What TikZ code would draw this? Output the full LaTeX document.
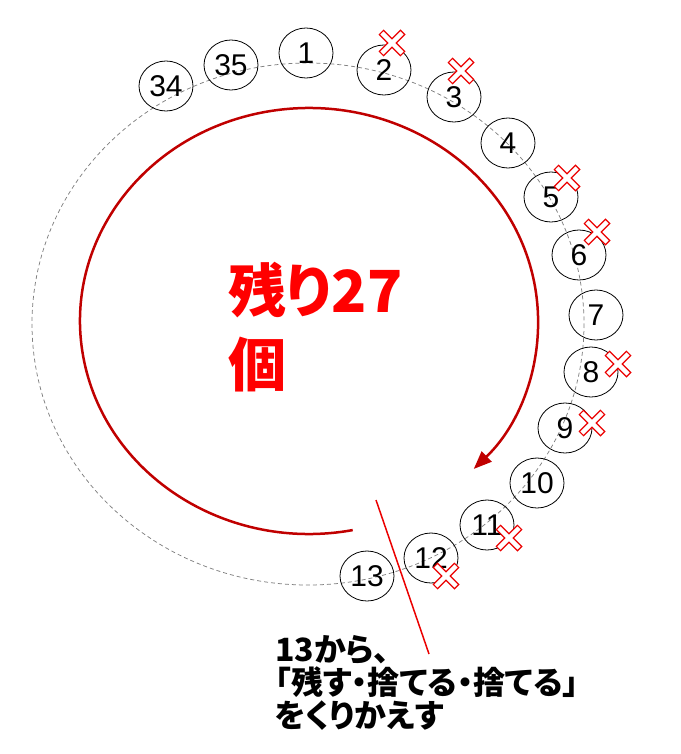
\documentclass[tikz,border=0pt]{standalone}
\usepackage{fontspec}
\setmainfont{Liberation Sans}
\newfontfamily\jpfont[RawFeature=+palt]{Noto Sans CJK JP}
\usetikzlibrary{shapes.geometric,arrows.meta}
\definecolor{ringgrey}{RGB}{128,128,128}
\definecolor{arcred}{RGB}{192,0,0}
\definecolor{markred}{RGB}{235,0,0}
\definecolor{textred}{RGB}{255,0,0}

\begin{document}
\begin{tikzpicture}[x=1pt,y=-1pt,
    ball/.style={ellipse,draw,line width=0.8,minimum width=54,minimum height=50,inner sep=0,font=\fontsize{30pt}{30pt}\selectfont},
    rest/.style={inner sep=0,anchor=base west,text=textred,font=\jpfont\bfseries\fontsize{58pt}{58pt}\selectfont},
    note/.style={inner sep=0,anchor=base west,text=black,font=\jpfont\bfseries\fontsize{32pt}{32pt}\selectfont},
    xmark/.pic={\draw[line width=1.1,color=markred,fill=white] (3,15) -- (3,3) -- (15,3) -- (15,-3) -- (3,-3) -- (3,-15) -- (-3,-15) -- (-3,-3) -- (-15,-3) -- (-15,3) -- (-3,3) -- (-3,15) -- cycle;}]
            \useasboundingbox (0,0) rectangle (680,754);
            % dashed ring
            \draw [line width=0.75, color=ringgrey, dash pattern=on 4pt off 3pt] (308,324) ellipse [x radius=276, y radius=261];
            % balls on the ring
            \node [ball] (n34) at (166,86) {34};
            \node [ball] (n35) at (231,65) {35};
            \node [ball] (n1) at (306,53) {1};
            \node [ball] (n2) at (384,70) {2};
            \node [ball] (n3) at (454,97) {3};
            \node [ball] (n4) at (508,143) {4};
            \node [ball] (n5) at (551,197) {5};
            \node [ball] (n6) at (579,255) {6};
            \node [ball] (n7) at (596,315) {7};
            \node [ball] (n8) at (591,372) {8};
            \node [ball] (n9) at (565,428) {9};
            \node [ball] (n10) at (537,483) {10};
            \node [ball] (n11) at (487,525) {11};
            \node [ball] (n12) at (431,558) {12};
            \node [ball] (n13) at (367,576) {13};
            % crosses
            \pic [rotate=45] at (392,43) {xmark};
            \pic [rotate=45] at (461,71) {xmark};
            \pic [rotate=45] at (567,178) {xmark};
            \pic [rotate=45] at (597,232) {xmark};
            \pic [rotate=45] at (618,364) {xmark};
            \pic [rotate=45] at (592,423) {xmark};
            \pic [rotate=45] at (509,538) {xmark};
            \pic [rotate=45] at (446,576) {xmark};
            % big arrow round
            \draw [line width=2.5, color=arcred, -{Triangle[length=18pt,width=14pt]}] (309,321) ++(79:229 and 213) arc [start angle=79, end angle=404, x radius=229, y radius=213];
            % count inside
            \node [rest] (rest1) at (228,312) {残り27};
            \node [rest] (rest2) at (228,386) {個};
            % start line
            \coordinate (cut top) at (376,500);
            \coordinate (cut bottom) at (429,654);
            \draw [line width=1.5, color=markred] (cut top) -- (cut bottom);
            % note below
            \node [note] (note1) at (275,661) {13から、};
            \node [note] (note2) at (275,694) {「残す・捨てる・捨てる」};
            \node [note] (note3) at (275,727) {をくりかえす};
\end{tikzpicture}
\end{document}
